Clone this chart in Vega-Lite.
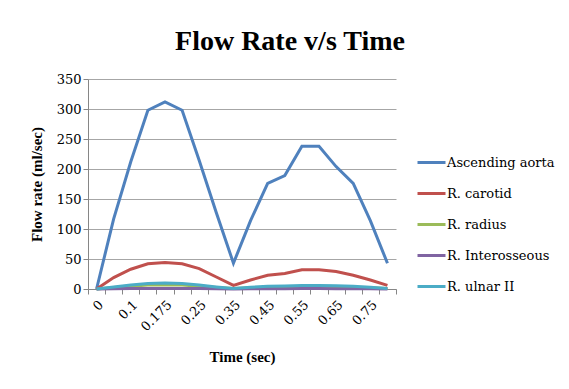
{
  "$schema": "https://vega.github.io/schema/vega-lite/v6.json",
  "width": 308,
  "height": 210,
  "autosize": {"type": "none"},
  "padding": {"left": 88, "top": 79, "right": 173, "bottom": 100},
  "background": "white",
  "title": {"text": "Flow Rate v/s Time", "font": "Liberation Serif", "fontSize": 28, "fontWeight": "bold", "color": "#000000", "anchor": "middle", "dx": 48, "offset": 17},
  "data": {"values": [
    {"t":"0","s":"Ascending aorta","v":0},{"t":"0.05","s":"Ascending aorta","v":117},{"t":"0.1","s":"Ascending aorta","v":212},{"t":"0.15","s":"Ascending aorta","v":298},{"t":"0.175","s":"Ascending aorta","v":312},{"t":"0.2","s":"Ascending aorta","v":298},{"t":"0.25","s":"Ascending aorta","v":214},{"t":"0.3","s":"Ascending aorta","v":127},{"t":"0.35","s":"Ascending aorta","v":43},{"t":"0.4","s":"Ascending aorta","v":114},{"t":"0.45","s":"Ascending aorta","v":176},{"t":"0.5","s":"Ascending aorta","v":189},{"t":"0.55","s":"Ascending aorta","v":238},{"t":"0.6","s":"Ascending aorta","v":238},{"t":"0.65","s":"Ascending aorta","v":204},{"t":"0.7","s":"Ascending aorta","v":176},{"t":"0.75","s":"Ascending aorta","v":114},{"t":"0.8","s":"Ascending aorta","v":43},
    {"t":"0","s":"R. carotid","v":0},{"t":"0.05","s":"R. carotid","v":19},{"t":"0.1","s":"R. carotid","v":33},{"t":"0.15","s":"R. carotid","v":42},{"t":"0.175","s":"R. carotid","v":44},{"t":"0.2","s":"R. carotid","v":42},{"t":"0.25","s":"R. carotid","v":34},{"t":"0.3","s":"R. carotid","v":20},{"t":"0.35","s":"R. carotid","v":6},{"t":"0.4","s":"R. carotid","v":15},{"t":"0.45","s":"R. carotid","v":23},{"t":"0.5","s":"R. carotid","v":26},{"t":"0.55","s":"R. carotid","v":32},{"t":"0.6","s":"R. carotid","v":32},{"t":"0.65","s":"R. carotid","v":29},{"t":"0.7","s":"R. carotid","v":23},{"t":"0.75","s":"R. carotid","v":15},{"t":"0.8","s":"R. carotid","v":6},
    {"t":"0","s":"R. radius","v":0},{"t":"0.05","s":"R. radius","v":2.5},{"t":"0.1","s":"R. radius","v":4.5},{"t":"0.15","s":"R. radius","v":6.5},{"t":"0.175","s":"R. radius","v":7},{"t":"0.2","s":"R. radius","v":6.5},{"t":"0.25","s":"R. radius","v":4.5},{"t":"0.3","s":"R. radius","v":2.5},{"t":"0.35","s":"R. radius","v":0.8},{"t":"0.4","s":"R. radius","v":2},{"t":"0.45","s":"R. radius","v":3},{"t":"0.5","s":"R. radius","v":3.5},{"t":"0.55","s":"R. radius","v":4.5},{"t":"0.6","s":"R. radius","v":4.5},{"t":"0.65","s":"R. radius","v":4},{"t":"0.7","s":"R. radius","v":3},{"t":"0.75","s":"R. radius","v":2},{"t":"0.8","s":"R. radius","v":0.8},
    {"t":"0","s":"R. Interosseous","v":0},{"t":"0.05","s":"R. Interosseous","v":0.4},{"t":"0.1","s":"R. Interosseous","v":0.7},{"t":"0.15","s":"R. Interosseous","v":1},{"t":"0.175","s":"R. Interosseous","v":1},{"t":"0.2","s":"R. Interosseous","v":1},{"t":"0.25","s":"R. Interosseous","v":0.7},{"t":"0.3","s":"R. Interosseous","v":0.4},{"t":"0.35","s":"R. Interosseous","v":0.1},{"t":"0.4","s":"R. Interosseous","v":0.3},{"t":"0.45","s":"R. Interosseous","v":0.5},{"t":"0.5","s":"R. Interosseous","v":0.5},{"t":"0.55","s":"R. Interosseous","v":0.7},{"t":"0.6","s":"R. Interosseous","v":0.7},{"t":"0.65","s":"R. Interosseous","v":0.6},{"t":"0.7","s":"R. Interosseous","v":0.5},{"t":"0.75","s":"R. Interosseous","v":0.3},{"t":"0.8","s":"R. Interosseous","v":0.1},
    {"t":"0","s":"R. ulnar II","v":0},{"t":"0.05","s":"R. ulnar II","v":3.5},{"t":"0.1","s":"R. ulnar II","v":6.5},{"t":"0.15","s":"R. ulnar II","v":9},{"t":"0.175","s":"R. ulnar II","v":10},{"t":"0.2","s":"R. ulnar II","v":9},{"t":"0.25","s":"R. ulnar II","v":6.5},{"t":"0.3","s":"R. ulnar II","v":3.5},{"t":"0.35","s":"R. ulnar II","v":1},{"t":"0.4","s":"R. ulnar II","v":3},{"t":"0.45","s":"R. ulnar II","v":4.5},{"t":"0.5","s":"R. ulnar II","v":5},{"t":"0.55","s":"R. ulnar II","v":6},{"t":"0.6","s":"R. ulnar II","v":6},{"t":"0.65","s":"R. ulnar II","v":5.5},{"t":"0.7","s":"R. ulnar II","v":4.5},{"t":"0.75","s":"R. ulnar II","v":3},{"t":"0.8","s":"R. ulnar II","v":1}
  ]},
  "mark": {"type": "line", "strokeWidth": 3, "strokeJoin": "miter"},
  "encoding": {
    "x": {"field": "t", "type": "ordinal", "sort": null, "bandPosition": 0.5,
      "scale": {"type": "band", "paddingInner": 0, "paddingOuter": 0},
      "axis": {"title": "Time (sec)", "labelAngle": -45, "tickBand": "extent", "grid": false,
        "labelPadding": 4,
        "labelExpr": "indexof(['0','0.1','0.175','0.25','0.35','0.45','0.55','0.65','0.75'], datum.label) >= 0 ? datum.label : ''",
        "titlePadding": 16}},
    "y": {"field": "v", "type": "quantitative",
      "scale": {"domain": [0, 350], "nice": false},
      "axis": {"title": "Flow rate (ml/sec)", "values": [0,50,100,150,200,250,300,350], "titlePadding": 12}},
    "color": {"field": "s", "type": "nominal", "sort": ["Ascending aorta","R. carotid","R. radius","R. Interosseous","R. ulnar II"],
      "scale": {"domain": ["Ascending aorta","R. carotid","R. radius","R. Interosseous","R. ulnar II"], "range": ["#4F81BD","#C0504D","#9BBB59","#8064A2","#4BACC6"]},
      "legend": {"title": null, "orient": "none", "legendX": 328, "legendY": 68, "symbolType": "stroke", "symbolSize": 784, "symbolStrokeWidth": 3, "rowPadding": 8, "labelOffset": 0}}
  },
  "config": {
    "view": {"stroke": null},
    "axis": {"labelFont": "DejaVu Serif", "labelFontSize": 13, "labelColor": "#000000", "titleFont": "Liberation Serif", "titleFontSize": 15, "titleFontWeight": "bold", "titleColor": "#000000", "domainColor": "#868686", "tickColor": "#868686", "gridColor": "#A6A6A6", "tickSize": 5},
    "legend": {"labelFont": "DejaVu Serif", "labelFontSize": 13, "labelColor": "#000000", "labelLimit": 300}
  }
}
